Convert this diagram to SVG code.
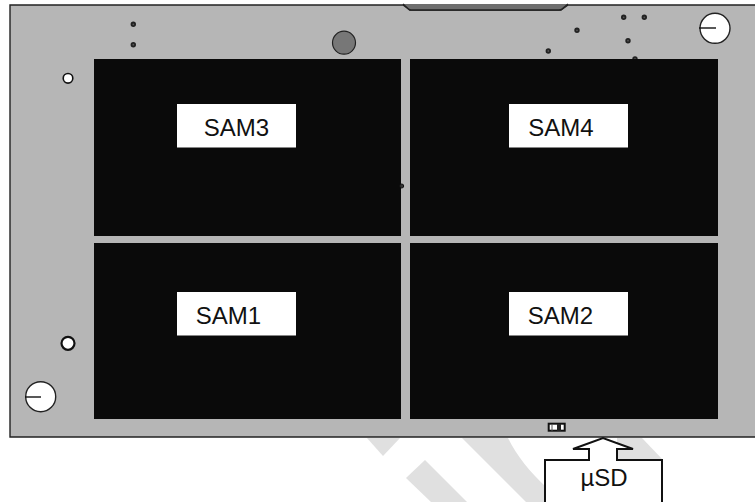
<svg xmlns="http://www.w3.org/2000/svg" width="755" height="502" viewBox="0 0 755 502">
<style>
.wm{fill:#e0e0e0}
.sam{fill:#0a0a0a}
.lab{fill:#fff}
.t{font-family:"Liberation Sans",Arial,sans-serif;font-size:24px;fill:#111;text-anchor:middle}
.via{fill:#555;stroke:#222;stroke-width:1.800}
.hole{fill:#fff;stroke:#111}
.mount{fill:#fff;stroke:#222;stroke-width:1.400}
</style>
<rect width="755" height="502" fill="#fff"/>
<g id="watermark">
<path class="wm" d="M367 438H400L383 456Z"/>
<path class="wm" d="M425 460L406 478L431 502H467Z"/>
<path class="wm" d="M462 438H508C517 456 530 472 546 487V502H526Z"/>
<path class="wm" d="M617 438H642L663 460H617Z"/>
</g>
<g id="board">
<path d="M10 5H755V437H10Z" fill="#b6b6b6"/>
<path d="M755 5H568L561 10H410L403 5H10V437H755" fill="none" stroke="#222" stroke-width="1.400"/>
<path d="M403 4L409 9.500Q410 10 411 10H559Q561 10 562 9L568 4Z" fill="#6e6e6e" stroke="none"/>
<path d="M403 4L409 9.500Q410 10 411 10H559Q561 10 562 9L568 4" fill="none" stroke="#222" stroke-width="1.400"/>
<circle cx="344" cy="42.700" r="11.500" fill="#777" stroke="#222" stroke-width="1.200"/>
<circle class="hole" cx="68" cy="78.300" r="4.800" stroke-width="1.600"/>
<circle class="hole" cx="68" cy="343.300" r="6.500" stroke-width="2.200"/>
<g id="mount-top"><circle class="mount" cx="715" cy="28.300" r="15"/><path d="M699 28H716" stroke="#111" stroke-width="1.400"/></g>
<g id="mount-bottom"><circle class="mount" cx="40.700" cy="396.700" r="15"/><path d="M25 397H41" stroke="#111" stroke-width="1.400"/></g>
<circle class="via" cx="133.300" cy="24.300" r="1.800"/>
<circle class="via" cx="133.300" cy="44.700" r="1.800"/>
<circle class="via" cx="577" cy="30.300" r="1.800"/>
<circle class="via" cx="623.700" cy="17.300" r="1.800"/>
<circle class="via" cx="644.300" cy="17.300" r="1.800"/>
<circle class="via" cx="628" cy="40.700" r="1.800"/>
<circle class="via" cx="548.300" cy="51" r="1.800"/>
<circle class="via" cx="635" cy="59" r="1.800"/>
</g>
<g id="sam3"><rect class="sam" x="94" y="59" width="307" height="177"/><rect class="lab" x="177" y="104" width="119" height="43.500"/><text class="t" x="236.500" y="136">SAM3</text></g>
<g id="sam4"><rect class="sam" x="410" y="59" width="308" height="177"/><rect class="lab" x="509" y="104" width="119" height="43.500"/><text class="t" x="561" y="136">SAM4</text></g>
<g id="sam1"><rect class="sam" x="94" y="243" width="307" height="176"/><rect class="lab" x="177" y="292" width="119" height="43.500"/><text class="t" x="228.500" y="324">SAM1</text></g>
<g id="sam2"><rect class="sam" x="410" y="243" width="308" height="176"/><rect class="lab" x="509" y="292" width="119" height="43.500"/><text class="t" x="560.500" y="324">SAM2</text></g>
<circle cx="401.700" cy="186" r="2" fill="#333" stroke="#111"/>
<g id="switch"><rect x="548.700" y="423.700" width="16" height="7" fill="#fff" stroke="#111" stroke-width="2"/><rect x="557" y="424" width="4" height="7" fill="#222"/><path d="M552 424V431" stroke="#555"/></g>
<g id="usd"><path d="M545 502V460H589V449H573L603 438L633 449H617V460H662V502" fill="#fff" stroke="#111" stroke-width="2"/><text class="t" x="604" y="486">µSD</text></g>
</svg>
